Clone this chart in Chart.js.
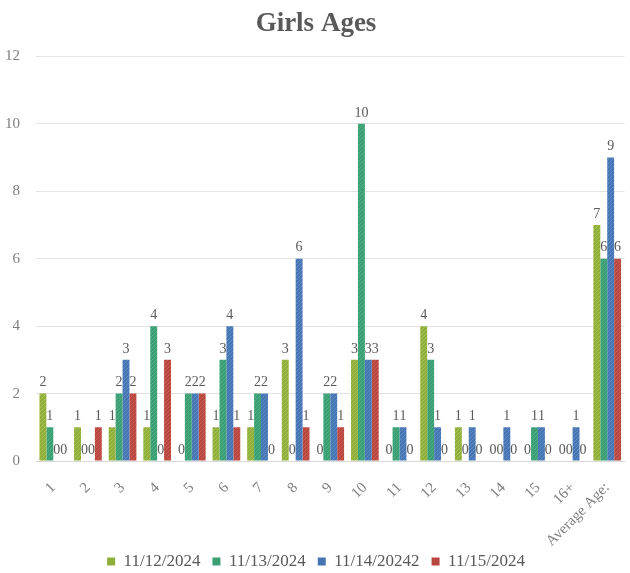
<!DOCTYPE html>
<html>
<head>
<meta charset="utf-8">
<script src="https://cdn.jsdelivr.net/npm/chart.js@4/dist/chart.umd.min.js"></script>
<style>
  html, body { margin: 0; padding: 0; background: #ffffff; overflow: hidden; }
  #wrap { width: 630px; height: 573px; position: relative; }
</style>
</head>
<body>
<div id="wrap"><canvas id="chart"></canvas></div>
<script>
// Age groups on the x axis
const categories = ['1', '2', '3', '4', '5', '6', '7', '8', '9', '10', '11', '12', '13', '14', '15', '16+', 'Average Age:'];

// Series labels
const seriesNames = ['11/12/2024', '11/13/2024', '11/14/20242', '11/15/2024'];

// Counts per day
const day1 = [2, 1, 1, 1, 0, 1, 1, 3, 0, 3, 0, 4, 1, 0, 0, 0, 7];
const day2 = [1, 0, 2, 4, 2, 3, 2, 0, 2, 10, 1, 3, 0, 0, 1, 0, 6];
const day3 = [0, 0, 3, 0, 2, 4, 2, 6, 2, 3, 1, 1, 1, 1, 1, 1, 9];
const day4 = [0, 1, 2, 3, 2, 1, 0, 1, 1, 3, 0, 0, 0, 0, 0, 0, 6];

// Y axis tick values
const yTicks = [0, 2, 4, 6, 8, 10, 12];

const baseColors = ['#8fae3a', '#3a9f74', '#4675b3', '#b9463f'];
const stripeColors = ['rgba(200,220,120,0.45)', 'rgba(120,200,160,0.4)', 'rgba(140,175,225,0.4)', 'rgba(230,130,120,0.4)'];

// Diagonal striped fill for the bars
function stripedFill(base, stripe) {
  const c = document.createElement('canvas');
  c.width = 4; c.height = 4;
  const g = c.getContext('2d');
  g.fillStyle = base;
  g.fillRect(0, 0, 4, 4);
  g.strokeStyle = stripe;
  g.lineWidth = 1;
  g.beginPath();
  g.moveTo(0, 4); g.lineTo(4, 0);
  g.moveTo(-1, 1); g.lineTo(1, -1);
  g.moveTo(3, 5); g.lineTo(5, 3);
  g.stroke();
  return g.createPattern(c, 'repeat');
}

const serif = '"Liberation Serif", "DejaVu Serif", serif';
const textGrey = '#595959';

// Draws each bar's value above it
const valueLabels = {
  id: 'valueLabels',
  afterDatasetsDraw(chart) {
    const ctx = chart.ctx;
    ctx.save();
    ctx.font = '14px ' + serif;
    ctx.fillStyle = textGrey;
    ctx.textAlign = 'center';
    ctx.textBaseline = 'bottom';
    chart.data.datasets.forEach((ds, i) => {
      const meta = chart.getDatasetMeta(i);
      meta.data.forEach((bar, j) => {
        ctx.fillText(String(ds.data[j]), bar.x, bar.y - 4);
      });
    });
    ctx.restore();
  }
};

// Lets the long rotated category names run past the x-axis box without being clipped
const roomForLabels = {
  id: 'roomForLabels',
  afterLayout(chart) {
    chart.scales.x.bottom += 20;
  }
};

const seriesData = [day1, day2, day3, day4];

new Chart(document.getElementById('chart'), {
  type: 'bar',
  data: {
    labels: categories,
    datasets: seriesData.map((d, i) => ({
      label: seriesNames[i],
      data: d,
      backgroundColor: stripedFill(baseColors[i], stripeColors[i]),
      borderWidth: 0,
      categoryPercentage: 0.8,
      barPercentage: 1.0
    }))
  },
  options: {
    responsive: true,
    maintainAspectRatio: false,
    animation: false,
    layout: { padding: { left: 4, right: 2, top: 4, bottom: -7 } },
    plugins: {
      title: {
        display: true,
        text: 'Girls Ages',
        color: textGrey,
        font: { family: serif, size: 27, weight: 'bold' },
        padding: { top: 4, bottom: 16 }
      },
      legend: {
        position: 'bottom',
        labels: {
          color: textGrey,
          font: { family: serif, size: 17 },
          boxWidth: 8,
          boxHeight: 8,
          padding: 12,
          generateLabels(chart) {
            return chart.data.datasets.map((ds, i) => ({
              text: ds.label,
              fillStyle: baseColors[i],
              strokeStyle: baseColors[i],
              lineWidth: 0,
              fontColor: textGrey,
              datasetIndex: i
            }));
          }
        }
      },
      tooltip: { enabled: false }
    },
    scales: {
      x: {
        grid: { display: false },
        border: { color: '#d9d9d9' },
        afterFit(axis) {
          axis.height = 80;
        },
        ticks: {
          color: '#7f7f7f',
          font: { family: serif, size: 15 },
          minRotation: 45,
          maxRotation: 45,
          autoSkip: false,
          padding: 10
        }
      },
      y: {
        min: yTicks[0],
        max: yTicks[yTicks.length - 1],
        afterBuildTicks(axis) {
          axis.ticks = yTicks.map(v => ({ value: v }));
        },
        afterFit(axis) {
          axis.width = 32;
        },
        grid: { color: '#e3e3e3', drawTicks: false },
        border: { display: false },
        ticks: {
          color: '#7f7f7f',
          font: { family: serif, size: 15 },
          padding: 16
        }
      }
    }
  },
  plugins: [valueLabels, roomForLabels]
});
</script>
</body>
</html>
